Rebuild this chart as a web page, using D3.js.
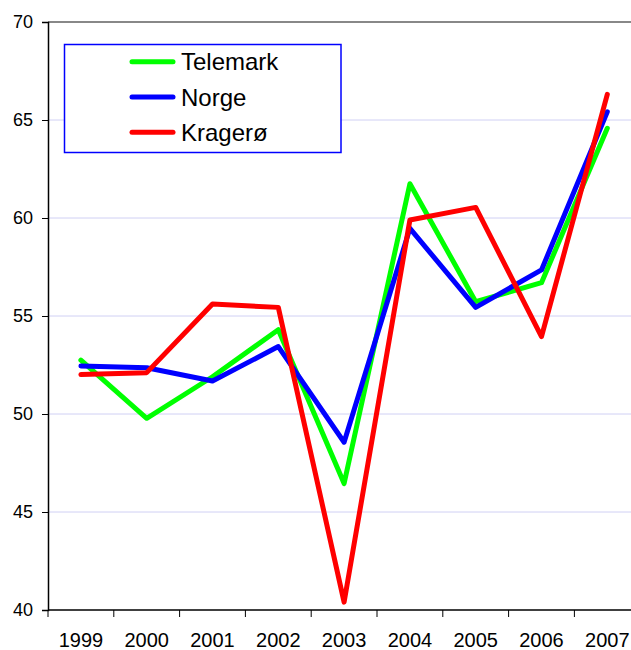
<!DOCTYPE html>
<html>
<head>
<meta charset="utf-8">
<script src="https://cdn.jsdelivr.net/npm/d3@7"></script>
<style>
  body { margin: 0; background: #fff; }
  svg { display: block; font-family: "Liberation Sans", Arial, sans-serif; }
</style>
</head>
<body>
<svg id="chart" width="631" height="650"></svg>
<script>
const years = ['1999', '2000', '2001', '2002', '2003', '2004', '2005', '2006', '2007'];
const telemark = [52.75, 49.78, 51.9, 54.3, 46.45, 61.75, 55.73, 56.7, 64.58];
const norge = [52.45, 52.36, 51.68, 53.44, 48.56, 59.47, 55.44, 57.35, 65.42];
const kragero = [52.01, 52.11, 55.61, 55.44, 40.4, 59.9, 60.54, 53.95, 66.31];
const yTicks = [40, 45, 50, 55, 60, 65, 70];

const seriesList = [
    { name: 'Telemark', values: telemark, color: '#00ff00' },
    { name: 'Norge', values: norge, color: '#0000ff' },
    { name: 'Kragerø', values: kragero, color: '#ff0000' }
];

const margin = { top: 22, left: 48 };
const bandW = 65.8;
const plotH = 588;
const plotW = bandW * years.length;

const svg = d3.select('#chart');

const x = d3.scaleBand()
    .domain(years)
    .range([margin.left, margin.left + plotW]);

const y = d3.scaleLinear()
    .domain([40, 70])
    .range([margin.top + plotH, margin.top]);

// gridlines
svg.append('g')
    .selectAll('line')
    .data(yTicks.filter(d => d > 40 && d < 70))
    .enter()
    .append('line')
    .attr('x1', margin.left)
    .attr('x2', margin.left + plotW)
    .attr('y1', d => y(d))
    .attr('y2', d => y(d))
    .attr('stroke', '#d0d0f4')
    .attr('stroke-width', 1);

// top border
svg.append('line')
    .attr('x1', margin.left)
    .attr('x2', margin.left + plotW)
    .attr('y1', y(70))
    .attr('y2', y(70))
    .attr('stroke', '#888')
    .attr('stroke-width', 2);

// y axis
const yAxis = svg.append('g')
    .attr('transform', `translate(${margin.left}, 0)`)
    .call(d3.axisLeft(y).tickValues(yTicks).tickSize(6).tickPadding(9));
yAxis.select('.domain').attr('stroke', '#000').attr('stroke-width', 1.5);
yAxis.selectAll('.tick line').attr('stroke', '#000');
yAxis.selectAll('text').attr('font-size', 18).attr('fill', '#000');

// x axis: ticks on band boundaries
const xAxis = svg.append('g')
    .attr('transform', `translate(0, ${y(40)})`);
xAxis.append('line')
    .attr('x1', margin.left)
    .attr('x2', margin.left + plotW)
    .attr('stroke', '#000')
    .attr('stroke-width', 1.5);
xAxis.selectAll('.xtick')
    .data(years)
    .enter()
    .append('line')
    .attr('class', 'xtick')
    .attr('x1', d => x(d))
    .attr('x2', d => x(d))
    .attr('y1', 0)
    .attr('y2', 7)
    .attr('stroke', '#000');
xAxis.selectAll('.xlabel')
    .data(years)
    .enter()
    .append('text')
    .attr('class', 'xlabel')
    .attr('x', d => x(d) + x.bandwidth() / 2)
    .attr('y', 37)
    .attr('text-anchor', 'middle')
    .attr('font-size', 20)
    .text(d => d);

// lines
const line = d3.line()
    .x((d, i) => x(years[i]) + x.bandwidth() / 2)
    .y(d => y(d));

svg.append('g')
    .selectAll('path')
    .data(seriesList)
    .enter()
    .append('path')
    .attr('d', d => line(d.values))
    .attr('fill', 'none')
    .attr('stroke', d => d.color)
    .attr('stroke-width', 5)
    .attr('stroke-linejoin', 'round')
    .attr('stroke-linecap', 'round');

// legend
const legend = svg.append('g');
legend.append('rect')
    .attr('x', 64.5)
    .attr('y', 44.5)
    .attr('width', 276.5)
    .attr('height', 108)
    .attr('fill', '#fff')
    .attr('stroke', '#0000ff')
    .attr('stroke-width', 1.5);

const items = legend.selectAll('.item')
    .data(seriesList)
    .enter()
    .append('g')
    .attr('transform', (d, i) => `translate(0, ${61.7 + i * 35.3})`);
items.append('line')
    .attr('x1', 132)
    .attr('x2', 173)
    .attr('stroke', d => d.color)
    .attr('stroke-width', 5)
    .attr('stroke-linecap', 'round');
items.append('text')
    .attr('x', 181)
    .attr('y', 8.5)
    .attr('font-size', 24)
    .text(d => d.name);
</script>
</body>
</html>
